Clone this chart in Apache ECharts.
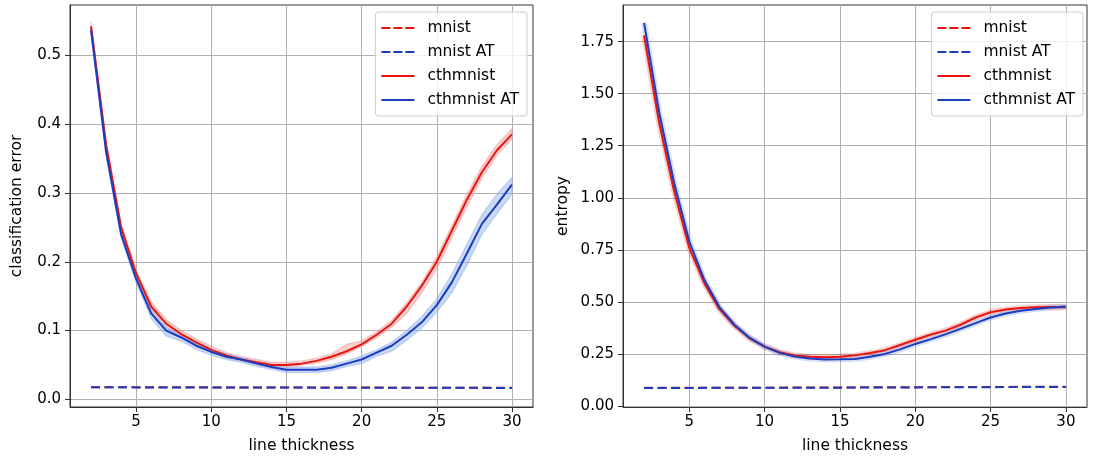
<!DOCTYPE html>
<html>
<head>
<meta charset="utf-8">
<script src="https://cdn.jsdelivr.net/npm/echarts@6/dist/echarts.min.js"></script>
<style>html,body{margin:0;padding:0;background:#fff;}#c{width:1095px;height:459px;}</style>
</head>
<body>
<div id="c"></div>
<script>
// ---- data ----
const thickness = [2,3,4,5,6,7,8,9,10,11,12,13,14,15,16,17,18,19,20,21,22,23,24,25,26,27,28,29,30];

// left panel: classification error
const errMnist      = [0.0178,0.0178,0.0177,0.0177,0.0177,0.0176,0.0176,0.0176,0.0175,0.0175,0.0175,0.0174,0.0174,0.0174,0.0173,0.0173,0.0173,0.0172,0.0172,0.0172,0.0171,0.0171,0.0171,0.0170,0.0170,0.0170,0.0169,0.0169,0.0169];
const errMnistAT    = [0.0176,0.0176,0.0176,0.0175,0.0175,0.0175,0.0174,0.0174,0.0174,0.0173,0.0173,0.0173,0.0172,0.0172,0.0172,0.0171,0.0171,0.0171,0.0170,0.0170,0.0170,0.0169,0.0169,0.0169,0.0168,0.0168,0.0168,0.0167,0.0167];
const errCth        = [0.542,0.370,0.250,0.183,0.135,0.110,0.095,0.083,0.072,0.064,0.058,0.054,0.050,0.050,0.052,0.056,0.062,0.070,0.080,0.094,0.110,0.135,0.165,0.200,0.245,0.290,0.330,0.362,0.385];
const errCthLo      = [0.536,0.365,0.245,0.178,0.130,0.105,0.090,0.079,0.069,0.061,0.056,0.052,0.048,0.047,0.050,0.053,0.058,0.066,0.077,0.090,0.105,0.125,0.155,0.190,0.235,0.280,0.322,0.355,0.378];
const errCthHi      = [0.548,0.375,0.255,0.188,0.142,0.116,0.100,0.088,0.077,0.068,0.062,0.058,0.054,0.054,0.056,0.060,0.066,0.080,0.085,0.098,0.115,0.140,0.170,0.207,0.252,0.298,0.338,0.370,0.393];
const errCthAT      = [0.537,0.360,0.240,0.175,0.125,0.100,0.090,0.078,0.069,0.062,0.058,0.052,0.047,0.043,0.043,0.043,0.046,0.052,0.058,0.068,0.078,0.094,0.112,0.137,0.170,0.212,0.255,0.283,0.312];
const errCthATLo    = [0.532,0.355,0.235,0.170,0.118,0.092,0.085,0.073,0.064,0.058,0.054,0.048,0.044,0.039,0.039,0.039,0.042,0.048,0.052,0.063,0.070,0.086,0.104,0.127,0.155,0.195,0.240,0.270,0.298];
const errCthATHi    = [0.542,0.365,0.245,0.180,0.130,0.104,0.095,0.082,0.073,0.066,0.061,0.055,0.050,0.047,0.047,0.047,0.050,0.056,0.063,0.072,0.083,0.100,0.120,0.146,0.182,0.225,0.268,0.298,0.322];

// right panel: entropy
const entMnist   = [0.087,0.087,0.087,0.087,0.087,0.088,0.088,0.088,0.088,0.088,0.089,0.089,0.089,0.089,0.089,0.090,0.090,0.090,0.090,0.090,0.091,0.091,0.091,0.091,0.091,0.092,0.092,0.092,0.092];
const entMnistAT = [0.086,0.086,0.086,0.086,0.087,0.087,0.087,0.087,0.087,0.088,0.088,0.088,0.088,0.088,0.089,0.089,0.089,0.089,0.089,0.090,0.090,0.090,0.090,0.090,0.091,0.091,0.091,0.091,0.091];
const entCth     = [1.78,1.36,1.03,0.76,0.59,0.465,0.385,0.325,0.285,0.258,0.243,0.236,0.234,0.236,0.243,0.254,0.268,0.293,0.318,0.342,0.362,0.390,0.425,0.450,0.463,0.470,0.474,0.475,0.474];
const entCthAT   = [1.84,1.41,1.07,0.79,0.605,0.475,0.390,0.328,0.285,0.255,0.237,0.228,0.223,0.224,0.226,0.236,0.250,0.272,0.298,0.320,0.344,0.370,0.398,0.425,0.444,0.457,0.466,0.473,0.478];

// ticks
const xTicks = [5,10,15,20,25,30];
const xTickLabels = ['5','10','15','20','25','30'];
const yTicksLeft = [0,0.1,0.2,0.3,0.4,0.5];
const yTickLabelsLeft = ['0.0','0.1','0.2','0.3','0.4','0.5'];
const yTicksRight = [0,0.25,0.5,0.75,1.0,1.25,1.5,1.75];
const yTickLabelsRight = ['0.00','0.25','0.50','0.75','1.00','1.25','1.50','1.75'];

const legendNames = ['mnist','mnist AT','cthmnist','cthmnist AT'];

// ---- build ----
const RED = '#e8150e', BLUE = '#1a3cc0';
const FONT = 'DejaVu Sans';
const pairs = ys => thickness.map((x,i)=>[x, ys[i]]);
const labelFor = (vals, labs) => v => { let b=0; for (let i=0;i<vals.length;i++) if (Math.abs(vals[i]-v)<Math.abs(vals[b]-v)) b=i; return labs[b]; };

function xAxis(gi){
  return {
    gridIndex: gi, type:'value', min:0.6, max:31.4,
    name:'line thickness', nameLocation:'middle', nameGap:31,
    nameTextStyle:{fontFamily:FONT, fontSize:15.5, color:'#000'},
    axisLine:{show:true, onZero:false, lineStyle:{color:'#333', width:1}},
    axisTick:{show:true, length:5, customValues:xTicks, lineStyle:{color:'#333'}},
    axisLabel:{customValues:xTicks, formatter: labelFor(xTicks, xTickLabels), fontFamily:FONT, fontSize:15, color:'#000', margin:8},
    splitLine:{show:true, lineStyle:{color:'#b0b0b0', width:1}}
  };
}
function yAxis(gi, min, max, ticks, labs, name, gap){
  return {
    gridIndex: gi, type:'value', min, max,
    name, nameLocation:'middle', nameGap:gap, nameRotate:90,
    nameTextStyle:{fontFamily:FONT, fontSize:15.5, color:'#000'},
    axisLine:{show:true, onZero:false, lineStyle:{color:'#333', width:1}},
    axisTick:{show:true, length:5, customValues:ticks, lineStyle:{color:'#333'}},
    axisLabel:{customValues:ticks, formatter: labelFor(ticks, labs), fontFamily:FONT, fontSize:15, color:'#000', margin:9},
    splitLine:{show:true, lineStyle:{color:'#b0b0b0', width:1}}
  };
}
function line(name, gi, ys, color, dashed){
  return {
    type:'line', name, xAxisIndex:gi, yAxisIndex:gi, data:pairs(ys),
    symbol:'none', smooth:false, animation:false,
    lineStyle:{color, width:2, type: dashed ? [9,4.5] : 'solid'},
    itemStyle:{color}
  };
}
function band(id, gi, lo, hi, fill){
  return {
    type:'custom', name:id, xAxisIndex:gi, yAxisIndex:gi, silent:true, animation:false, clip:true,
    data: thickness.map((x,i)=>[x, lo[i], hi[i]]),
    encode:{x:0, y:[1,2]},
    renderItem:(params, api) => {
      if (params.dataIndex !== 0) return null;
      const top = thickness.map((x,i)=>api.coord([x, hi[i]]));
      const bot = thickness.map((x,i)=>api.coord([x, lo[i]])).reverse();
      return {type:'polygon', shape:{points: top.concat(bot)}, style:{fill, stroke:fill, lineWidth:1.5}};
    }
  };
}
function glow(id, gi, ys, color, w, op){
  return {type:'line', name:id, xAxisIndex:gi, yAxisIndex:gi, data:pairs(ys), symbol:'none', silent:true, animation:false,
    lineStyle:{color, width:w, opacity:op}};
}
const ICON_DASH = 'path://M0,0h9v2h-9zM12,0h9v2h-9zM24,0h9v2h-9z';
const ICON_SOLID = 'path://M0,0h33v2h-33z';
function legend(right){
  return {
    data: [
      {name:'mnist', icon:ICON_DASH},
      {name:'mnist AT', icon:ICON_DASH},
      {name:'cthmnist', icon:ICON_SOLID},
      {name:'cthmnist AT', icon:ICON_SOLID}
    ],
    orient:'vertical', top:12, right,
    backgroundColor:'rgba(255,255,255,0.8)', borderColor:'#cccccc', borderWidth:1, borderRadius:3,
    padding:[8,8,8,6], itemWidth:33, itemHeight:14, itemGap:8, symbolKeepAspect:true,
    textStyle:{fontFamily:FONT, fontSize:15.5, color:'#000', padding:[0,0,0,8]},
    selectedMode:false
  };
}

const series = [
  band('bR', 0, errCthLo, errCthHi, 'rgba(240,150,150,0.45)'),
  band('bB', 0, errCthATLo, errCthATHi, 'rgba(150,180,235,0.5)'),
  line('mnist', 0, errMnist, RED, true),
  line('mnist AT', 0, errMnistAT, BLUE, true),
  line('cthmnist', 0, errCth, RED, false),
  line('cthmnist AT', 0, errCthAT, BLUE, false),
  glow('gR', 1, entCth, RED, 6, 0.2),
  glow('gB', 1, entCthAT, '#5a86e0', 6, 0.25),
  line('mnist', 1, entMnist, RED, true),
  line('mnist AT', 1, entMnistAT, BLUE, true),
  line('cthmnist', 1, entCth, RED, false),
  line('cthmnist AT', 1, entCthAT, BLUE, false)
];

const chart = echarts.init(document.getElementById('c'), null, {renderer:'canvas'});
chart.setOption({
  animation:false,
  backgroundColor:'#fff',
  grid:[
    {left:70, top:5, width:463, height:402, show:true, borderColor:'#333', borderWidth:1, backgroundColor:'transparent'},
    {left:623, top:5, width:464, height:402, show:true, borderColor:'#333', borderWidth:1, backgroundColor:'transparent'}
  ],
  xAxis:[xAxis(0), xAxis(1)],
  yAxis:[
    yAxis(0, -0.011, 0.573, yTicksLeft, yTickLabelsLeft, 'classification error', 45),
    yAxis(1, -0.005, 1.926, yTicksRight, yTickLabelsRight, 'entropy', 52)
  ],
  legend:[legend(568), legend(12)],
  series
});
</script>
</body>
</html>
